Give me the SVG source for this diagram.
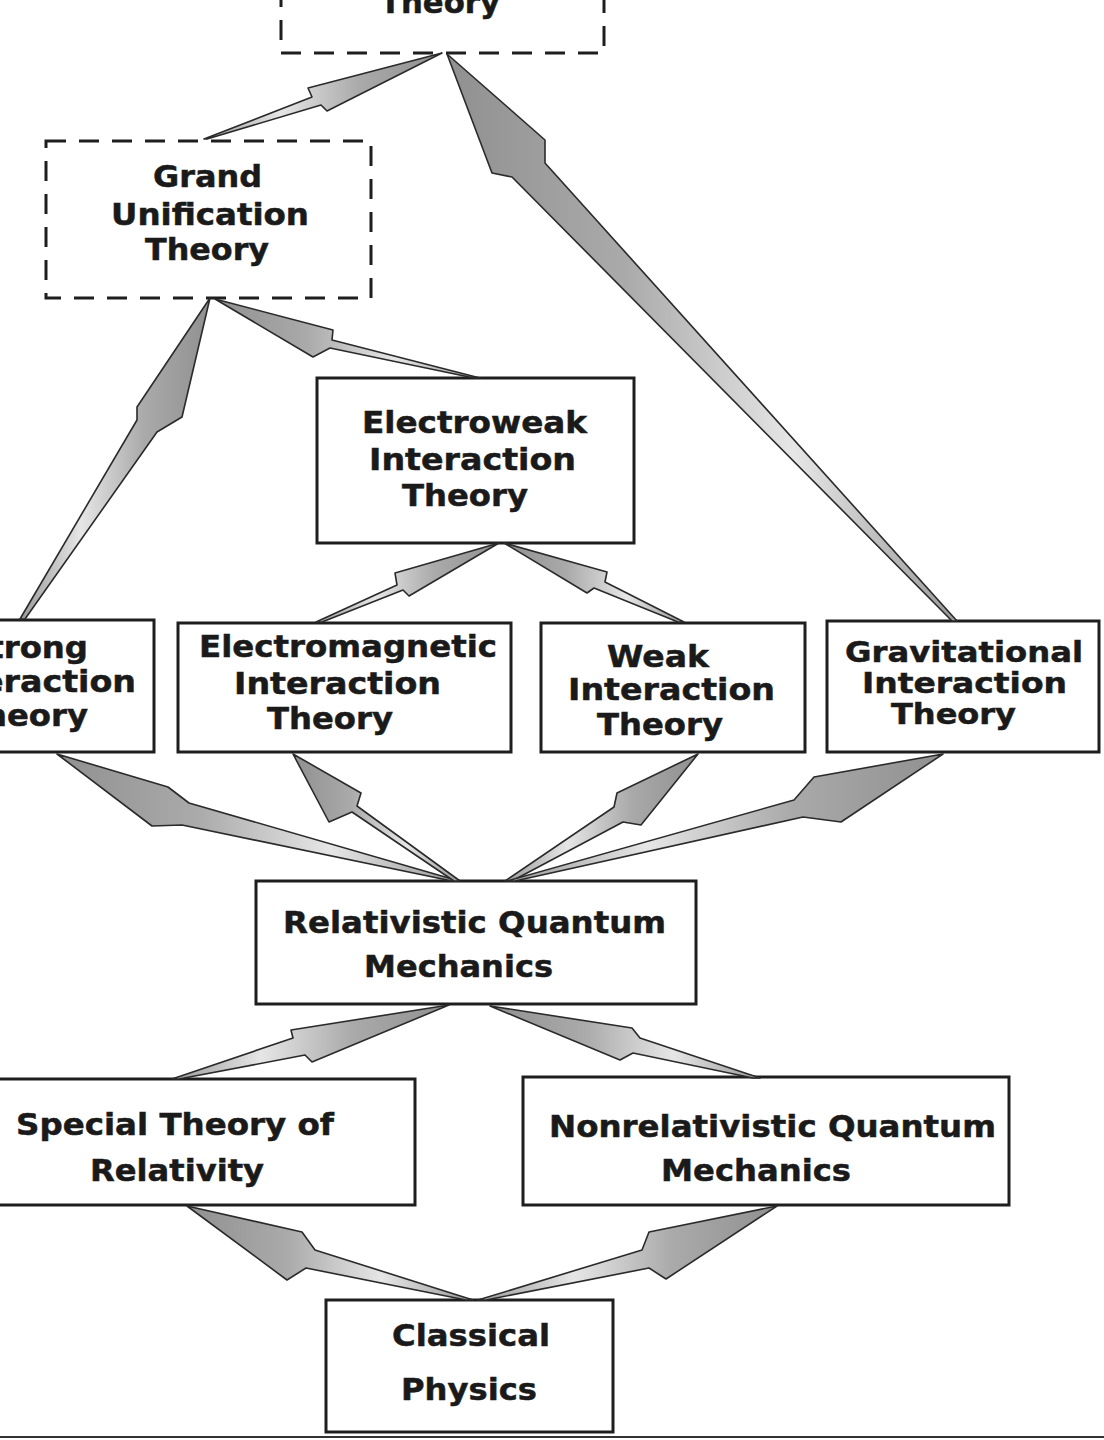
<svg xmlns="http://www.w3.org/2000/svg" width="1104" height="1440" viewBox="0 0 1104 1440">
<style>
.box{fill:#fff;stroke:#1e1e1e;stroke-width:3}
.dash{fill:#fff;stroke:#1e1e1e;stroke-width:3;stroke-dasharray:20 13}
.t{font-family:"DejaVu Sans","Verdana",sans-serif;font-weight:bold;font-size:30px;fill:#1a1a1a;stroke:#1a1a1a;stroke-width:0.5}
.s{font-size:28px}
.ar{stroke:#2a2a2a;stroke-width:1.6;stroke-linejoin:round}
.l{fill:url(#gL)}
.r{fill:url(#gR)}
</style>
<defs>
<linearGradient id="gL" x1="0" y1="0" x2="1" y2="0">
<stop offset="0" stop-color="#909090"/>
<stop offset="0.35" stop-color="#aaaaaa"/>
<stop offset="0.68" stop-color="#e6e6e6"/>
<stop offset="1" stop-color="#9a9a9a"/>
</linearGradient>
<linearGradient id="gR" x1="1" y1="0" x2="0" y2="0">
<stop offset="0" stop-color="#909090"/>
<stop offset="0.35" stop-color="#aaaaaa"/>
<stop offset="0.68" stop-color="#e6e6e6"/>
<stop offset="1" stop-color="#9a9a9a"/>
</linearGradient>
</defs>
<rect x="0" y="0" width="1104" height="1440" fill="#fff"/>
<line x1="0" y1="1437" x2="1104" y2="1437" stroke="#333" stroke-width="2"/>

<g id="toe">
<rect class="dash" x="281" y="-80" width="323" height="133"/>
<text class="t" x="380" y="13" textLength="120" lengthAdjust="spacingAndGlyphs">Theory</text>
</g>
<g id="grand">
<rect class="dash" x="46" y="141" width="325" height="157"/>
<text class="t" x="153" y="187" textLength="109" lengthAdjust="spacingAndGlyphs">Grand</text>
<text class="t" x="111" y="225" textLength="198" lengthAdjust="spacingAndGlyphs">Unification</text>
<text class="t" x="145" y="260" textLength="124" lengthAdjust="spacingAndGlyphs">Theory</text>
</g>
<g id="electroweak">
<rect class="box" x="317" y="378" width="317" height="165"/>
<text class="t" x="362" y="433" textLength="225" lengthAdjust="spacingAndGlyphs">Electroweak</text>
<text class="t" x="369" y="470" textLength="207" lengthAdjust="spacingAndGlyphs">Interaction</text>
<text class="t" x="402" y="506" textLength="126" lengthAdjust="spacingAndGlyphs">Theory</text>
</g>
<g id="strong">
<rect class="box" x="-160" y="620" width="314" height="132"/>
<text class="t" x="-35" y="658" textLength="123" lengthAdjust="spacingAndGlyphs">Strong</text>
<text class="t" x="-71" y="692" textLength="207" lengthAdjust="spacingAndGlyphs">Interaction</text>
<text class="t" x="-38" y="726" textLength="126" lengthAdjust="spacingAndGlyphs">Theory</text>
</g>
<g id="electromagnetic">
<rect class="box" x="178" y="623" width="333" height="129"/>
<text class="t" x="199" y="657" textLength="298" lengthAdjust="spacingAndGlyphs">Electromagnetic</text>
<text class="t" x="234" y="694" textLength="207" lengthAdjust="spacingAndGlyphs">Interaction</text>
<text class="t" x="267" y="729" textLength="126" lengthAdjust="spacingAndGlyphs">Theory</text>
</g>
<g id="weak">
<rect class="box" x="541" y="623" width="264" height="129"/>
<text class="t" x="607" y="667" textLength="102" lengthAdjust="spacingAndGlyphs">Weak</text>
<text class="t" x="568" y="700" textLength="207" lengthAdjust="spacingAndGlyphs">Interaction</text>
<text class="t" x="597" y="735" textLength="126" lengthAdjust="spacingAndGlyphs">Theory</text>
</g>
<g id="gravitational">
<rect class="box" x="827" y="621" width="272" height="131"/>
<text class="t s" x="845" y="662" textLength="238" lengthAdjust="spacingAndGlyphs">Gravitational</text>
<text class="t s" x="862" y="693" textLength="205" lengthAdjust="spacingAndGlyphs">Interaction</text>
<text class="t s" x="891" y="724" textLength="125" lengthAdjust="spacingAndGlyphs">Theory</text>
</g>
<g id="rqm">
<rect class="box" x="256" y="881" width="440" height="123"/>
<text class="t" x="283" y="933" textLength="383" lengthAdjust="spacingAndGlyphs">Relativistic Quantum</text>
<text class="t" x="364" y="977" textLength="189" lengthAdjust="spacingAndGlyphs">Mechanics</text>
</g>
<g id="str">
<rect class="box" x="-10" y="1079" width="425" height="126"/>
<text class="t" x="16" y="1135" textLength="318" lengthAdjust="spacingAndGlyphs">Special Theory of</text>
<text class="t" x="90" y="1181" textLength="174" lengthAdjust="spacingAndGlyphs">Relativity</text>
</g>
<g id="nrqm">
<rect class="box" x="523" y="1077" width="486" height="128"/>
<text class="t" x="549" y="1137" textLength="447" lengthAdjust="spacingAndGlyphs">Nonrelativistic Quantum</text>
<text class="t" x="661" y="1181" textLength="190" lengthAdjust="spacingAndGlyphs">Mechanics</text>
</g>
<g id="classical">
<rect class="box" x="326" y="1300" width="287" height="132"/>
<text class="t" x="392" y="1346" textLength="158" lengthAdjust="spacingAndGlyphs">Classical</text>
<text class="t" x="401" y="1400" textLength="136" lengthAdjust="spacingAndGlyphs">Physics</text>
</g>

<g id="connectors">
<polygon class="ar r" points="442,53 308,88 312,97 204,139 207,139 321,105 327,111"/>
<polygon class="ar l" points="447,54 545,140 545,163 957,621 952,621 512,177 492,173"/>
<polygon class="ar r" points="210,298 182,417 157,432 25,619 20,619 137,420 137,407"/>
<polygon class="ar l" points="215,299 333,330 332,340 480,378 474,378 330,348 313,357"/>
<polygon class="ar r" points="499,543 395,573 397,585 316,622 322,622 403,590 409,596"/>
<polygon class="ar l" points="504,543 607,572 605,582 684,622 678,622 594,588 587,593"/>
<polygon class="ar l" points="57,754 168,787 189,803 459,881 452,881 182,825 152,826"/>
<polygon class="ar l" points="293,754 361,793 357,806 460,881 454,881 352,812 329,822"/>
<polygon class="ar r" points="698,754 617,793 614,807 505,881 512,881 623,822 641,825"/>
<polygon class="ar r" points="943,754 814,777 794,800 507,881 515,881 803,817 841,822"/>
<polygon class="ar r" points="449,1005 291,1030 293,1038 172,1079 179,1079 305,1055 312,1062"/>
<polygon class="ar l" points="490,1006 632,1028 640,1038 760,1078 753,1078 633,1053 620,1060"/>
<polygon class="ar l" points="187,1206 302,1232 315,1250 473,1300 466,1300 306,1268 287,1280"/>
<polygon class="ar r" points="777,1206 649,1232 642,1250 478,1300 486,1300 649,1268 666,1279"/>
</g>
</svg>
